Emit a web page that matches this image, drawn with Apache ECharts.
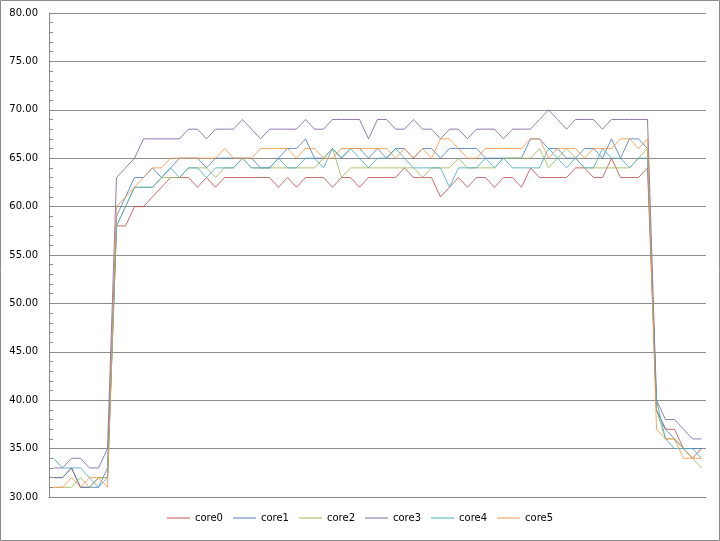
<!DOCTYPE html>
<html>
<head>
<meta charset="utf-8">
<script src="https://cdn.jsdelivr.net/npm/echarts@6/dist/echarts.min.js"></script>
<style>
html,body{margin:0;padding:0;background:#fff;}
#chart{width:720px;height:541px;}
</style>
</head>
<body>
<div id="chart"></div>
<script>
var seriesNames = ['core0','core1','core2','core3','core4','core5'];
var yTicks = [30,35,40,45,50,55,60,65,70,75,80];

var core0 = [32,32,33,31,31,32,32,
  58,58,60,60,61,62,63,63,63,62,63,62,63,63,63,63,63,63,62,63,62,63,63,63,62,63,63,62,63,63,63,63,64,63,63,63,61,62,63,62,63,63,62,63,63,62,64,63,63,63,63,64,64,63,63,65,63,63,63,64,
  39,37,37,35,34,35];
var core1 = [32,32,33,31,31,31,33,
  59,61,63,63,64,63,64,65,65,65,64,65,65,65,65,65,64,64,65,66,66,67,65,65,66,65,66,66,65,66,65,66,66,65,66,66,65,66,66,66,66,65,65,65,65,65,67,67,66,66,65,65,66,66,65,67,65,67,67,66,
  39,37,36,35,35,35];
var core2 = [31,31,31,32,31,32,32,
  58,60,62,62,62,63,63,63,64,64,64,63,64,64,65,64,64,64,64,64,64,64,64,65,66,63,64,64,64,64,64,64,64,64,63,64,64,64,65,64,64,64,64,65,65,65,65,66,64,65,66,65,64,64,64,64,64,64,65,66,
  39,36,36,35,34,33];
var core3 = [33,33,34,34,33,33,35,
  63,64,65,67,67,67,67,67,68,68,67,68,68,68,69,68,67,68,68,68,68,69,68,68,69,69,69,69,67,69,69,68,68,69,68,68,67,68,68,67,68,68,68,67,68,68,68,69,70,69,68,69,69,69,68,69,69,69,69,69,
  40,38,38,37,36,36];
var core4 = [34,33,33,33,32,31,32,
  58,60,62,62,62,63,64,63,64,64,63,64,64,64,65,64,64,64,65,64,64,65,65,64,66,65,66,65,64,65,65,66,65,64,64,64,64,62,64,64,64,65,64,65,64,64,64,64,66,65,64,65,64,64,66,65,65,64,65,65,
  40,36,35,35,35,34];
var core5 = [31,31,32,31,32,32,31,
  60,61,62,63,64,64,65,65,65,65,65,65,66,65,65,65,66,66,66,66,65,66,66,65,65,66,66,66,66,66,66,65,66,65,66,65,67,67,66,65,65,66,66,66,66,66,67,67,65,66,66,66,65,66,66,66,67,67,66,67,
  37,36,36,34,34,34];

var seriesData = [core0, core1, core2, core3, core4, core5];
var colors = ['#C0504D','#4F81BD','#9BBB59','#8064A2','#4BACC6','#F79646'];
var categories = [];
for (var i = 0; i < core0.length; i++) categories.push(String(i + 1));

var chart = echarts.init(document.getElementById('chart'), null, {renderer: 'canvas'});
var series = seriesNames.map(function (name, k) {
  return {
    name: name,
    type: 'line',
    data: seriesData[k],
    symbol: 'none',
    showSymbol: false,
    smooth: false,
    lineStyle: {width: 1, color: colors[k], opacity: 0.85},
    itemStyle: {color: colors[k]},
    emphasis: {disabled: true},
    animation: false
  };
});

chart.setOption({
  animation: false,
  backgroundColor: '#ffffff',
  color: colors,
  grid: {left: 49, right: 14, top: 13, bottom: 44, containLabel: false},
  graphic: [{
    type: 'rect',
    shape: {x: 0.5, y: 0.5, width: 719, height: 540},
    style: {fill: 'none', stroke: '#8a8a8a', lineWidth: 1},
    silent: true
  }],
  legend: {
    data: seriesNames,
    bottom: 13,
    left: 'center',
    itemWidth: 23,
    itemHeight: 1,
    itemGap: 10,
    icon: 'rect',
    textStyle: {fontFamily: 'DejaVu Sans', fontSize: 10, color: '#000'}
  },
  xAxis: {
    type: 'category',
    data: categories,
    boundaryGap: true,
    axisLine: {show: true, lineStyle: {color: '#888888', width: 1}},
    axisTick: {show: false},
    axisLabel: {show: false},
    splitLine: {show: false}
  },
  yAxis: {
    type: 'value',
    min: yTicks[0],
    max: yTicks[yTicks.length - 1],
    interval: 5,
    axisLine: {show: true, lineStyle: {color: '#888888', width: 1}},
    axisTick: {show: true, inside: true, length: 4, lineStyle: {color: '#888888'}},
    minorTick: {show: true, splitNumber: 5, length: 4, lineStyle: {color: '#888888'}},
    minorSplitLine: {show: false},
    axisLabel: {
      margin: 11,
      fontFamily: 'DejaVu Sans',
      fontSize: 10,
      color: '#000',
      formatter: function (v) { return v.toFixed(2); }
    },
    splitLine: {show: true, lineStyle: {color: '#8c8c8c', width: 1}}
  },
  series: series
});
</script>
</body>
</html>
